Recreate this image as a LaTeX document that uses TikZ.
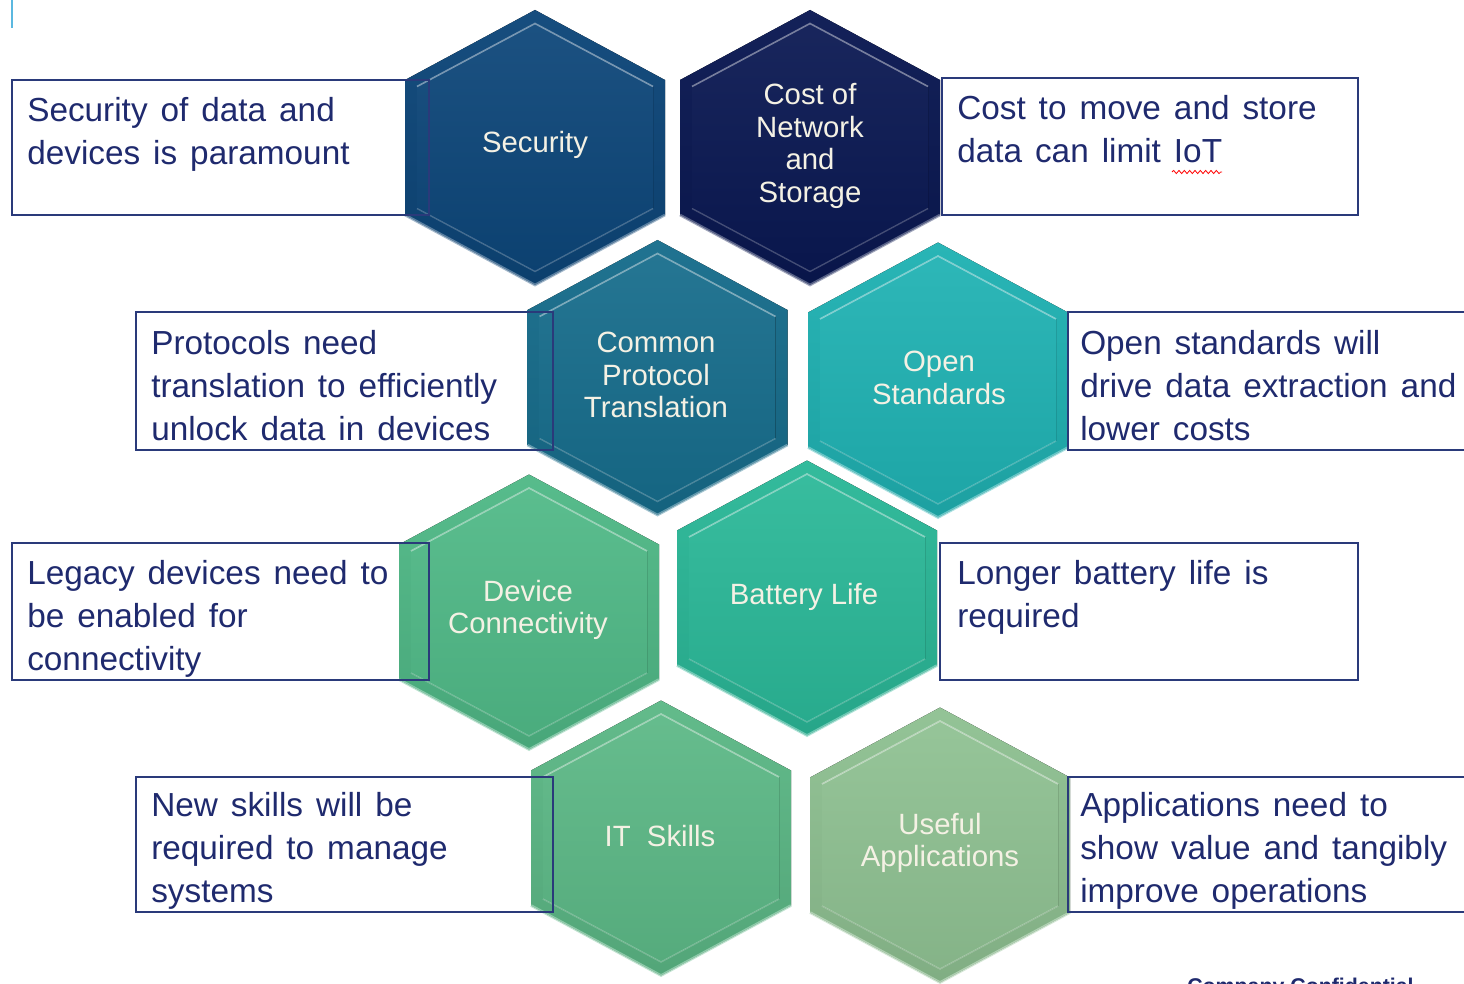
\documentclass[tikz,border=0pt]{standalone}
\usepackage{fontspec}
\setmainfont{Liberation Sans}
\newfontfamily\boxfont[WordSpace=1.4]{Liberation Sans}
\usetikzlibrary{decorations.pathmorphing}
\definecolor{navy}{HTML}{1F2A6E}
\definecolor{boxline}{HTML}{2A3A7A}
\definecolor{hexA}{HTML}{0D4679}
\definecolor{hexB}{HTML}{0A1852}
\definecolor{hexC}{HTML}{176D8C}
\definecolor{hexD}{HTML}{20B2B3}
\definecolor{hexE}{HTML}{50B987}
\definecolor{hexF}{HTML}{2BB898}
\definecolor{hexG}{HTML}{5CB886}
\definecolor{hexH}{HTML}{8FC192}
\definecolor{hextext}{HTML}{F4F1E4}
\definecolor{tickblue}{HTML}{5BB8E0}
\newcommand\hexshape[3]{%
  \fill[top color=#3!96!white, bottom color=#3!90!black]
    ({#1},{#2-137.5}) -- ({#1+130},{#2-67.5}) -- ({#1+130},{#2+67.5}) -- ({#1},{#2+137.5}) -- ({#1-130},{#2+67.5}) -- ({#1-130},{#2-67.5}) -- cycle;
  \draw[#3!55!white, line width=2pt, opacity=0.7]
    ({#1-130},{#2+67.5}) -- ({#1},{#2+137.5}) -- ({#1+130},{#2+67.5});
  \fill[top color=#3!94!white, bottom color=#3!93!black]
    ({#1},{#2-124}) -- ({#1+118},{#2-61}) -- ({#1+118},{#2+61}) -- ({#1},{#2+124}) -- ({#1-118},{#2+61}) -- ({#1-118},{#2-61}) -- cycle;
  \draw[#3!45!white, line width=1.2pt, opacity=0.8]
    ({#1-118},{#2-61}) -- ({#1},{#2-124}) -- ({#1+118},{#2-61});
  \draw[#3!60!white, line width=1pt, opacity=0.6]
    ({#1-118},{#2+61}) -- ({#1},{#2+124}) -- ({#1+118},{#2+61});
}
\tikzset{
  hextxt/.style={text=hextext, align=center, inner sep=0pt, font=\fontsize{22}{24.4}\selectfont},
  boxtxt/.style={text=navy, align=left, inner sep=0pt, anchor=north west, font=\boxfont\fontsize{25}{32.25}\selectfont},
  infobox/.style={draw=boxline, line width=1.1pt},
}
\begin{document}
\begin{tikzpicture}[x=0.75pt, y=-0.75pt]
\clip (0,0) rectangle (1464,984);
\fill[white] (0,0) rectangle (1464,984);
\draw[tickblue, line width=2pt] (12,0) -- (12,28);

% hexagons
\hexshape{535}{147.5}{hexA}
\hexshape{810}{147.5}{hexB}
\hexshape{657.5}{377.5}{hexC}
\hexshape{938}{380}{hexD}
\hexshape{529}{612}{hexE}
\hexshape{807}{598}{hexF}
\hexshape{661}{838}{hexG}
\hexshape{940}{845}{hexH}

\node[hextxt] (hsec) at (535,145) {Security};
\node[hextxt] (hcost) at (810,146) {Cost of\\Network\\and\\Storage};
\node[hextxt] (hprot) at (656,375) {Common\\Protocol\\Translation};
\node[hextxt] (hopen) at (939,378) {Open\\Standards};
\node[hextxt] (hdev) at (528,610) {Device\\Connectivity};
\node[hextxt] (hbat) at (804,597) {Battery Life};
\node[hextxt] (hit) at (660,836) {IT\ \ Skills};
\node[hextxt] (huse) at (940,843) {Useful\\Applications};

% boxes
\draw[infobox] (12,80) rectangle (429,215);
\draw[infobox] (942,78) rectangle (1358,215);
\draw[infobox] (136,312) rectangle (553,450);
\draw[infobox] (1068,312) rectangle (1470,450);
\draw[infobox] (12,543) rectangle (429,680);
\draw[infobox] (940,543) rectangle (1358,680);
\draw[infobox] (136,777) rectangle (553,912);
\draw[infobox] (1068,777) rectangle (1470,912);

\node[boxtxt] (t1) at (27,97) {Security of data and\\devices is paramount};
\node[boxtxt] (t2) at (957,95) {Cost to move and store\\data can limit IoT};
\node[boxtxt] (t3) at (151,330) {Protocols need\\translation to efficiently\\unlock data in devices};
\node[boxtxt] (t4) at (1080,330) {Open standards will\\drive data extraction and\\lower costs};
\node[boxtxt] (t5) at (27,560) {Legacy devices need to\\be enabled for\\connectivity};
\node[boxtxt] (t6) at (957,560) {Longer battery life is\\required};
\node[boxtxt] (t7) at (151,792) {New skills will be\\required to manage\\systems};
\node[boxtxt] (t8) at (1080,792) {Applications need to\\show value and tangibly\\improve operations};

\draw[red, line width=0.6pt, decorate, decoration={snake, amplitude=1.2, segment length=4}] (1172,172) -- (1222,172);

\node[anchor=north west, inner sep=0pt, text=navy, font=\bfseries\fontsize{16}{18}\selectfont] (conf) at (1187,978) {Company Confidential};
\end{tikzpicture}
\end{document}
